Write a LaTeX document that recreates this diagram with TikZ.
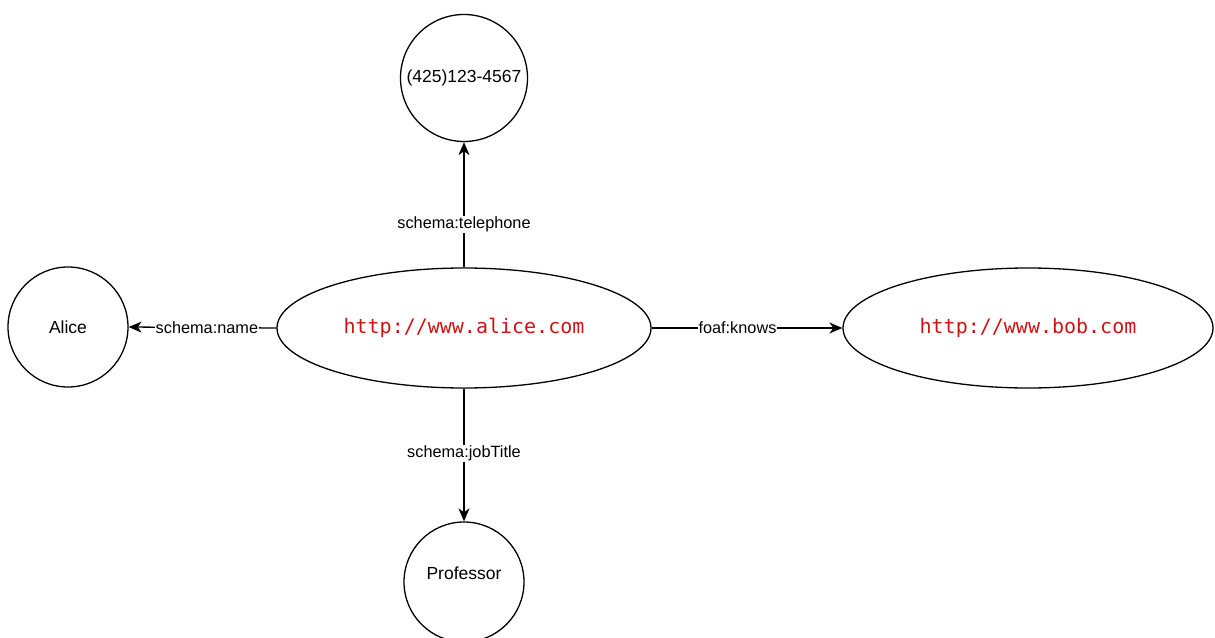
\documentclass[tikz,border=0pt]{standalone}
\usepackage{fontspec}
\setmainfont{Liberation Sans}
\newfontfamily\urlfont{DejaVu Sans Mono}
\usetikzlibrary{shapes.geometric,arrows.meta}
\definecolor{urlred}{RGB}{204,20,20}
\tikzset{
  lit/.style={circle,draw,line width=1.3pt,inner sep=0pt,font=\fontsize{17.5}{20}\selectfont},
  res/.style={ellipse,draw,line width=1.3pt,inner sep=0pt,minimum height=120pt,
    text=urlred,font=\urlfont\fontsize{20}{24}\selectfont},
  rel/.style={line width=1.3pt,-{Stealth[length=13pt,width=11pt,inset=4pt]}},
  lab/.style={fill=white,inner sep=1pt,font=\fontsize{16.3}{19}\selectfont}
}
\begin{document}
\begin{tikzpicture}[x=1pt,y=-1pt]
\useasboundingbox (0,0) rectangle (1215,637);
% resources
\node[res,minimum width=374pt] (alice) at (464,328) {http://www.alice.com};
\node[res,minimum width=370pt] (bob) at (1028,328) {http://www.bob.com};
% literals
\node[lit,minimum size=127pt] (tel) at (464,78) {(425)123-4567};
\node[lit,minimum size=120pt] (name) at (68,327) {Alice};
\node[lit,minimum size=120pt] (prof) at (464,582) {};
\node[font=\fontsize{17.5}{20}\selectfont] (proftext) at (464,573) {Professor};
% properties
\draw[rel] (alice.north) -- node[lab,pos=0.34] {schema:telephone} (tel.south);
\draw[rel] (alice.west) -- node[lab,pos=0.47] {schema:name} (name.east);
\draw[rel] (alice.east) -- node[lab,pos=0.45] {foaf:knows} (bob.west);
\draw[rel] (alice.south) -- node[lab,pos=0.49] {schema:jobTitle} (prof.north);
\end{tikzpicture}
\end{document}
